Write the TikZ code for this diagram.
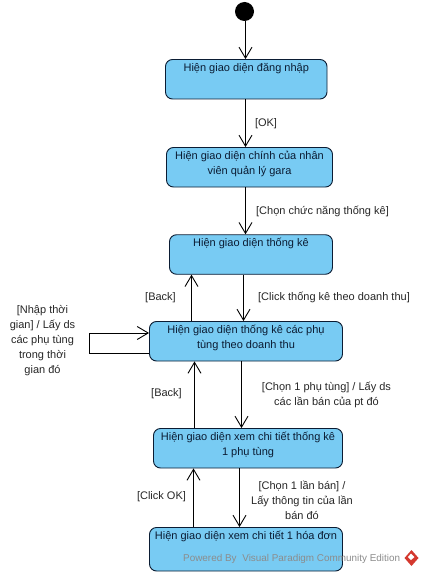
\documentclass[tikz,border=0pt]{standalone}
\usepackage{fontspec}
\setmainfont{Liberation Sans}
\usetikzlibrary{arrows.meta}
\definecolor{statefill}{HTML}{78CBF3}
\definecolor{stateline}{HTML}{0B1C33}
\definecolor{markred}{HTML}{D4382E}
\newcommand{\statetext}[2][150pt]{\parbox[c][32pt][t]{#1}{\centering #2}\hspace{3pt}}
\tikzset{
  statebox/.style={draw=stateline,fill=statefill,line width=0.9pt,rounded corners=7pt,inner sep=0pt,
    text=stateline,minimum height=39.5pt},
  flow/.style={line width=0.9pt,-{Straight Barb[length=11pt,width=13pt,line width=0.9pt]}},
  guard/.style={align=center,inner sep=0pt,text=black!85},
  every node/.append style={font=\fontsize{11}{15}\selectfont}
}
\begin{document}
\begin{tikzpicture}[x=1pt,y=-1pt]
\useasboundingbox (0,0) rectangle (424,575);
\node[circle,fill=black,inner sep=0pt,minimum size=19pt] (start) at (244.5,11.5) {};
\node[statebox,minimum width=161.5pt] (login) at (246.25,79.25) {\statetext{Hiện giao diện đăng nhập}};
\node[statebox,minimum width=166pt] (home) at (249.5,167.25) {\statetext[158pt]{Hiện giao diện chính của nhân\\viên quản lý gara}};
\node[statebox,minimum width=163pt] (stats) at (251,254.5) {\statetext{Hiện giao diện thống kê}};
\node[statebox,minimum width=193pt] (parts) at (246,341.25) {\statetext[170pt]{Hiện giao diện thống kê các phụ\\tùng theo doanh thu}};
\node[statebox,minimum width=189pt] (detail) at (248,448.25) {\statetext[180pt]{Hiện giao diện xem chi tiết thống kê\\1 phụ tùng}};
\node[statebox,minimum width=193pt,minimum height=43.5pt] (bill) at (246,549.25) {\parbox[c][36pt][t]{186pt}{\centering Hiện giao diện xem chi tiết 1 hóa đơn}\hspace{4pt}};
\coordinate (loopb) at (89.5,353);
\coordinate (loopt) at (89.5,333);
% transitions
\draw[flow] ([xshift=1pt]start.south) -- ([xshift=-0.75pt]login.north);
\draw[flow] ([xshift=-0.75pt]login.south) -- ([xshift=-4pt]home.north);
\draw[flow] ([xshift=-4pt]home.south) -- ([xshift=-5.5pt]stats.north);
\draw[flow] ([xshift=-54.5pt]parts.north) -- ([xshift=-59.5pt]stats.south);
\draw[flow] ([xshift=-7.5pt]stats.south) -- ([xshift=-2.5pt]parts.north);
\draw[flow] ([xshift=-53.5pt]detail.north) -- ([xshift=-51.5pt]parts.south);
\draw[flow] ([xshift=-4.5pt]parts.south) -- ([xshift=-6.5pt]detail.north);
\draw[flow] ([xshift=-52.5pt]bill.north) -- ([xshift=-54.5pt]detail.south);
\draw[flow] ([xshift=-8.5pt]detail.south) -- ([xshift=-6.5pt]bill.north);
\draw[flow] ([yshift=-11.75pt]parts.west) -- (loopb) -- (loopt) -- ([yshift=8.25pt]parts.west);
% guards
\node[guard] (gok) at (266,123.5) {[OK]};
\node[guard] (gfunc) at (322.5,211.5) {[Chọn chức năng thống kê]};
\node[guard] (gback) at (160.5,298) {[Back]};
\node[guard] (gclick) at (334,297.5) {[Click thống kê theo doanh thu]};
\node[guard] (gtime) at (42.5,341) {[Nhập thời\\gian] / Lấy ds\\các phụ tùng\\trong thời\\gian đó};
\node[guard] (gbackb) at (166.5,394) {[Back]};
\node[guard] (gpart) at (326.5,394.5) {[Chọn 1 phụ tùng] / Lấy ds\\các lần bán của pt đó};
\node[guard] (gclickok) at (161.5,496.5) {[Click OK]};
\node[guard] (gsale) at (302,500) {[Chọn 1 lần bán] /\\Lấy thông tin của lần\\bán đó};
% watermark
\node[anchor=west,inner sep=0pt,text=black!45,font=\fontsize{9.9}{12}\selectfont] (mark) at (183,558.5) {Powered By\hspace{3pt} Visual Paradigm Community Edition};
\fill[markred] (411.5,550) -- (418.5,558) -- (411.5,566) -- (404.5,558) -- cycle;
\fill[white] (411,553.5) -- (414.5,557) -- (411,560) -- (408,557) -- cycle;
\end{tikzpicture}
\end{document}
